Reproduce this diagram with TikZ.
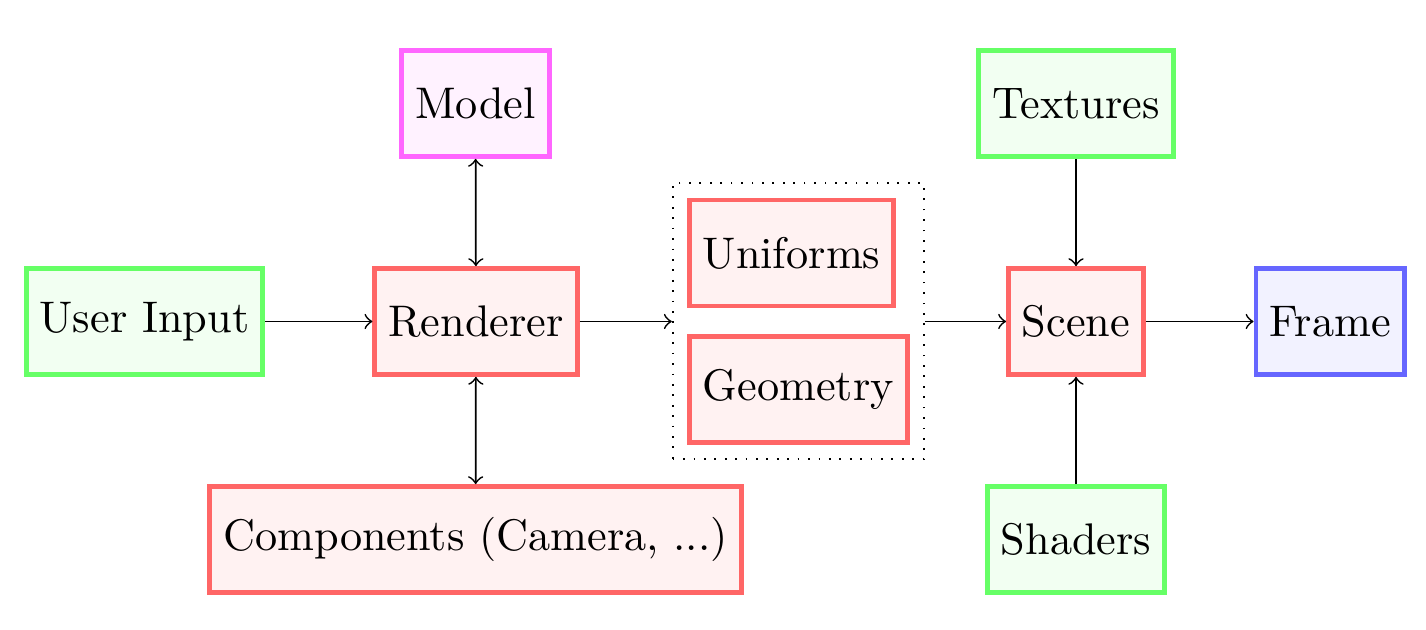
\documentclass[tikz,border=0pt]{standalone}
\usetikzlibrary{fit}
\definecolor{magline}{RGB}{255,102,255}
\definecolor{magfill}{RGB}{255,242,255}
\begin{document}
\begin{tikzpicture}[x=0.2304pt,y=-0.2304pt,
  font=\fontsize{10.2pt}{12pt}\selectfont,
  box/.style={draw, line width=1.1pt, minimum height=24.4pt, inner xsep=3.1pt, inner ysep=3.33pt},
  redbox/.style={box, draw=red!60, fill=red!5},
  greenbox/.style={box, draw=green!60, fill=green!5},
  magbox/.style={box, draw=magline, fill=magfill},
  bluebox/.style={box, draw=blue!60, fill=blue!5},
  conn/.style={->},
  biconn/.style={<->}]
\useasboundingbox (0,0) rectangle (1426,630);
\node[greenbox] (user) at (144.5,321.5) {User Input};
\node[redbox] (rend) at (476,321.5) {Renderer};
\node[magbox] (model) at (475.5,103.5) {Model};
\node[redbox] (comp) at (475.5,539.5) {Components (Camera, ...)};
\node[redbox, anchor=west] (uni) at (687,253) {Uniforms};
\node[redbox, anchor=west] (geo) at (687,389.5) {Geometry};
\node[draw, dotted, fit=(uni)(geo), inner sep=3.3pt] (grp) {};
\node[redbox] (scene) at (1076,321.5) {Scene};
\node[greenbox] (tex) at (1076,103.5) {Textures};
\node[greenbox] (shad) at (1076,539.5) {Shaders};
\node[bluebox] (frame) at (1330,321.5) {Frame};
\draw[conn] (user) -- (rend);
\draw[conn] (rend) -- (rend -| grp.west);
\draw[conn] (grp.east |- scene) -- (scene);
\draw[conn] (scene) -- (frame);
\draw[biconn] (model) -- (rend);
\draw[biconn] (rend) -- (comp);
\draw[conn] (tex) -- (scene);
\draw[conn] (shad) -- (scene);
\end{tikzpicture}
\end{document}
